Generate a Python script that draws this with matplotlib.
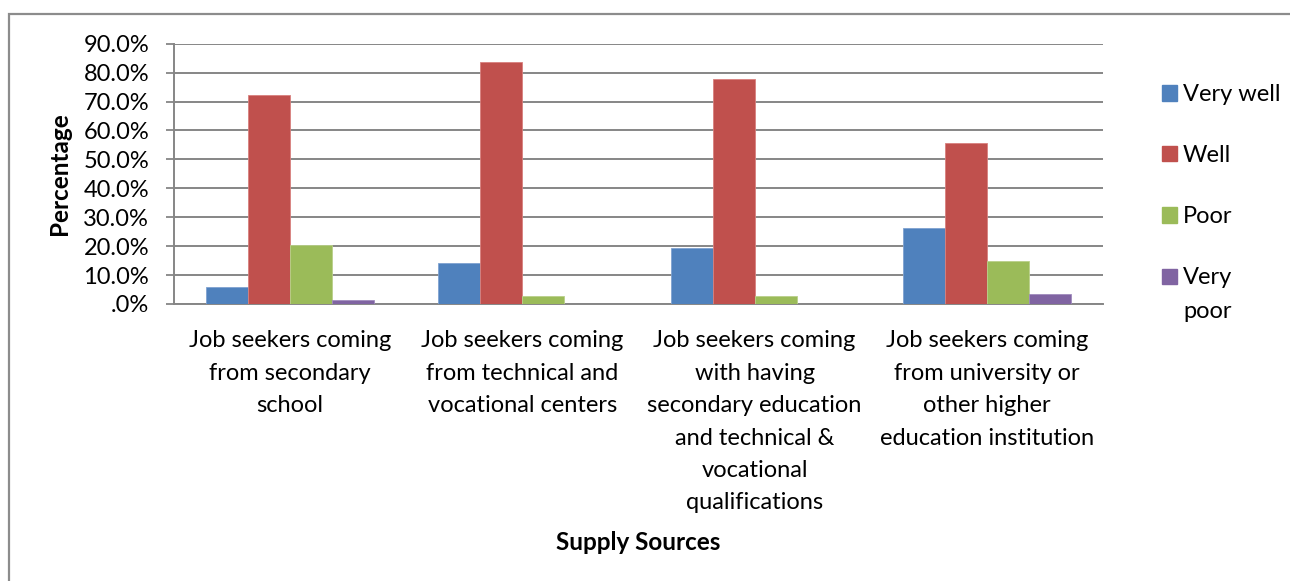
import matplotlib.pyplot as plt
import matplotlib.patches as mpatches
import numpy as np

plt.rcParams['font.family'] = ['Lato', 'DejaVu Sans']

categories = [
    "Job seekers coming\nfrom secondary\nschool",
    "Job seekers coming\nfrom technical and\nvocational centers",
    "Job seekers coming\nwith having\nsecondary education\nand technical &\nvocational\nqualifications",
    "Job seekers coming\nfrom university or\nother higher\neducation institution",
]
series_names = ["Very well", "Well", "Poor", "Very\npoor"]
very_well = [5.8, 14.2, 19.5, 26.2]
well = [72.3, 83.5, 77.7, 55.7]
poor = [20.3, 2.7, 2.9, 14.9]
very_poor = [1.4, 0.0, 0.0, 3.4]
yticks = [0, 10, 20, 30, 40, 50, 60, 70, 80, 90]
ytick_labels = [".0%", "10.0%", "20.0%", "30.0%", "40.0%", "50.0%",
                "60.0%", "70.0%", "80.0%", "90.0%"]

colors = ["#4F81BD", "#C0504D", "#9BBB59", "#8064A2"]
edges = ["#7FA2D0", "#D8807E", "#B9D08A", "#A08BBE"]

W, H = 1290, 581
fig = plt.figure(figsize=(W / 100, H / 100), dpi=100)
ax = fig.add_axes([174 / W, 1 - 304 / H, 929 / W, (304 - 43.7) / H])

# outer chart border (cut off at right/bottom like the original)
fig.patches.append(mpatches.Rectangle((9 / W, -0.1), 1.2, 1 - 14 / H + 0.1,
                                      transform=fig.transFigure, fill=False,
                                      edgecolor="#8C8C8C", linewidth=1.6))

x = np.arange(len(categories))
w = 0.181
data = [very_well, well, poor, very_poor]
for i, vals in enumerate(data):
    ax.bar(x + (i - 1.5) * w, vals, w, color=colors[i], edgecolor=edges[i],
           linewidth=0.6, label=series_names[i], zorder=3)

ax.set_xlim(-0.5, len(categories) - 0.5)
ax.set_ylim(0, 90)
ax.set_yticks(yticks)
ax.set_yticklabels(ytick_labels)
ax.set_xticks(x)
ax.set_xticklabels(categories, linespacing=1.67)
ax.tick_params(axis="x", length=0, pad=19, labelsize=17)
ax.tick_params(axis="y", length=6, width=1.3, color="#868686", pad=12, labelsize=17,
               direction="out")
ax.grid(axis="y", color="#868686", linewidth=1.4, zorder=0)
for s in ["top", "right"]:
    ax.spines[s].set_visible(False)
for s in ["left", "bottom"]:
    ax.spines[s].set_color("#868686")
    ax.spines[s].set_linewidth(1.4)

ax.set_ylabel("Percentage", fontsize=17.5, fontweight="bold", labelpad=9)
ax.set_xlabel("Supply Sources", fontsize=17.5, fontweight="bold", labelpad=13)

# legend drawn by hand so the two-line entry lines up on its first line
leg_y = [93, 154, 215, 276]
line_h = 34
for name, c, yc in zip(series_names, colors, leg_y):
    fig.patches.append(mpatches.Rectangle((1162 / W, 1 - (yc + 7.5) / H), 15 / W, 15 / H,
                                          transform=fig.transFigure, color=c))
    n_lines = name.count("\n") + 1
    base = yc + 8 + (n_lines - 1) * line_h
    fig.text(1183 / W, 1 - base / H, name, fontsize=17, va="baseline",
             ha="left", linespacing=1.78)

fig.savefig("out.png", dpi=100)
